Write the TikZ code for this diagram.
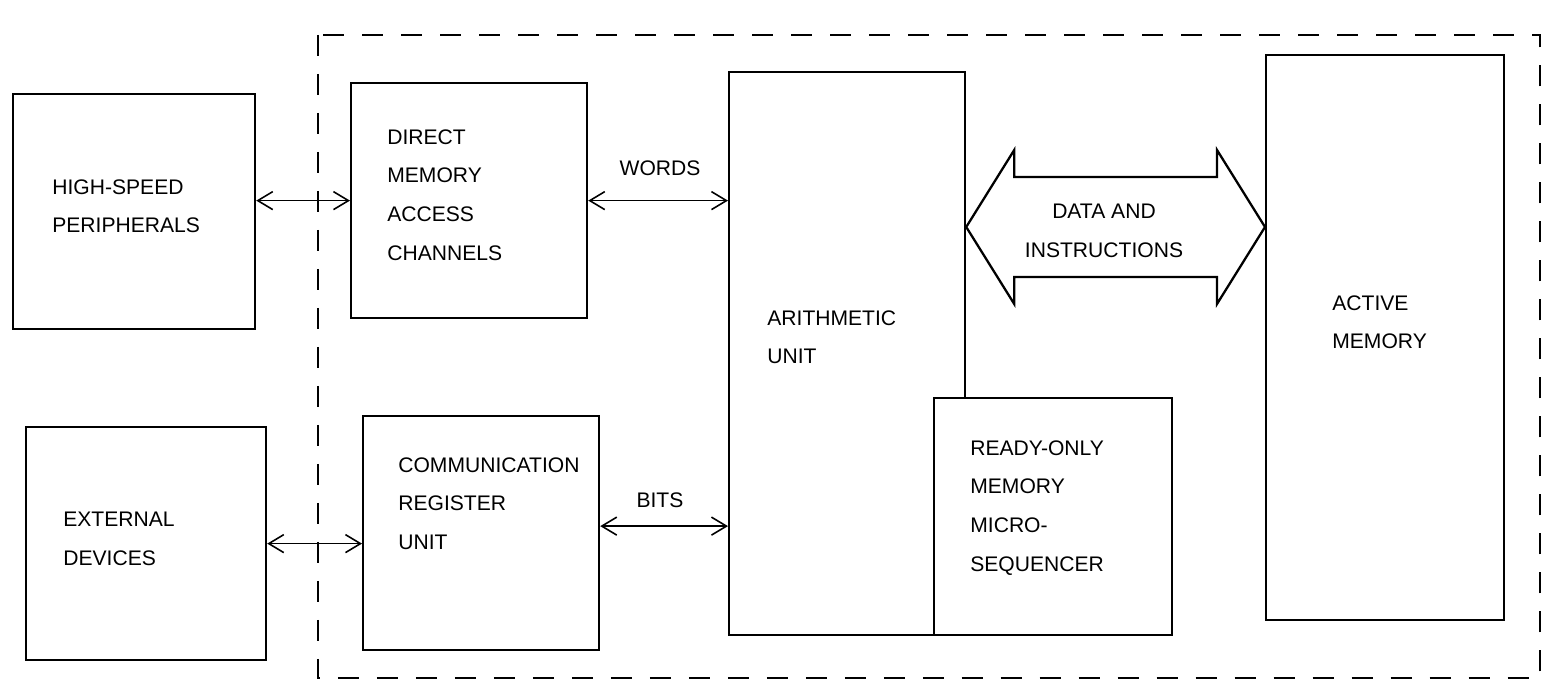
\documentclass[tikz,border=0pt]{standalone}
\usepackage{fontspec}
\setmainfont{Liberation Sans}
\usetikzlibrary{arrows.meta,calc}

\begin{document}
\begin{tikzpicture}[
    x=0.02cm, y=-0.02cm,
    box/.style={draw=black, line width=1.3pt, fill=white, anchor=north west, inner sep=0pt},
    txt/.style={anchor=north west, inner sep=0pt, align=left, font=\fontsize{12}{22}\selectfont},
    lbl/.style={inner sep=0pt, align=center, font=\fontsize{12}{22}\selectfont},
    link/.style={{Straight Barb[length=3mm,width=3.6mm]}-{Straight Barb[length=3mm,width=3.6mm]}, line width=0.9pt},
    frame/.style={line width=1.1pt, dash pattern=on 0.42cm off 0.36cm}
]
\useasboundingbox (0,0) rectangle (1543,695);

% processor boundary
\draw[frame] (318,35) rectangle (1540,678);

% blocks
\node[box, minimum width=4.84cm, minimum height=4.70cm] (hsp) at (12,93) {};
\node[box, minimum width=4.80cm, minimum height=4.66cm] (ext) at (25,426) {};
\node[box, minimum width=4.72cm, minimum height=4.70cm] (dma) at (350,82) {};
\node[box, minimum width=4.72cm, minimum height=4.68cm] (cru) at (362,415) {};
\node[box, minimum width=4.72cm, minimum height=11.26cm] (alu) at (728,71) {};
\node[box, minimum width=4.76cm, minimum height=4.74cm] (rom) at (933,397) {};
\node[box, minimum width=4.76cm, minimum height=11.30cm] (mem) at (1265,54) {};

% block texts
\node[txt] (hsptxt) at (52,179) {HIGH-SPEED\\PERIPHERALS};
\node[txt] (exttxt) at (63,512) {EXTERNAL\\DEVICES};
\node[txt] (dmatxt) at (387,129) {DIRECT\\MEMORY\\ACCESS\\CHANNELS};
\node[txt] (crutxt) at (398,457) {COMMUNICATION\\REGISTER\\UNIT};
\node[txt] (alutxt) at (767,310) {ARITHMETIC\\UNIT};
\node[txt] (romtxt) at (970,440) {READY-ONLY\\MEMORY\\MICRO-\\SEQUENCER};
\node[txt] (memtxt) at (1332,295) {ACTIVE\\MEMORY};

% links
\draw[link] (dma.west -| hsp.east) -- (dma.west);
\draw[link] (dma.east) -- (dma.east -| alu.west);
\draw[link] (ext.east) -- (ext.east -| cru.west);
\draw[link] ([yshift=0.14cm]cru.east) -- ([yshift=0.14cm]cru.east -| alu.west);
\node[lbl] (words) at (660,168) {WORDS};
\node[lbl] (bits) at (660,500) {BITS};

% wide bus arrow
\coordinate (ltip) at ($(alu.north east)+(0,156)$);
\coordinate (rtip) at (ltip -| mem.west);
\draw[line width=1.3pt, fill=white] (ltip) -- ++(48,-77) -- ++(0,27) -- ($(rtip)+(-48,-50)$)
    -- ++(0,-27) -- (rtip) -- ++(-48,77) -- ++(0,-27) -- ($(ltip)+(48,50)$) -- ++(0,27) -- cycle;
\node[lbl] (datatxt) at (1104,231) {DATA AND\\INSTRUCTIONS};
\end{tikzpicture}
\end{document}
